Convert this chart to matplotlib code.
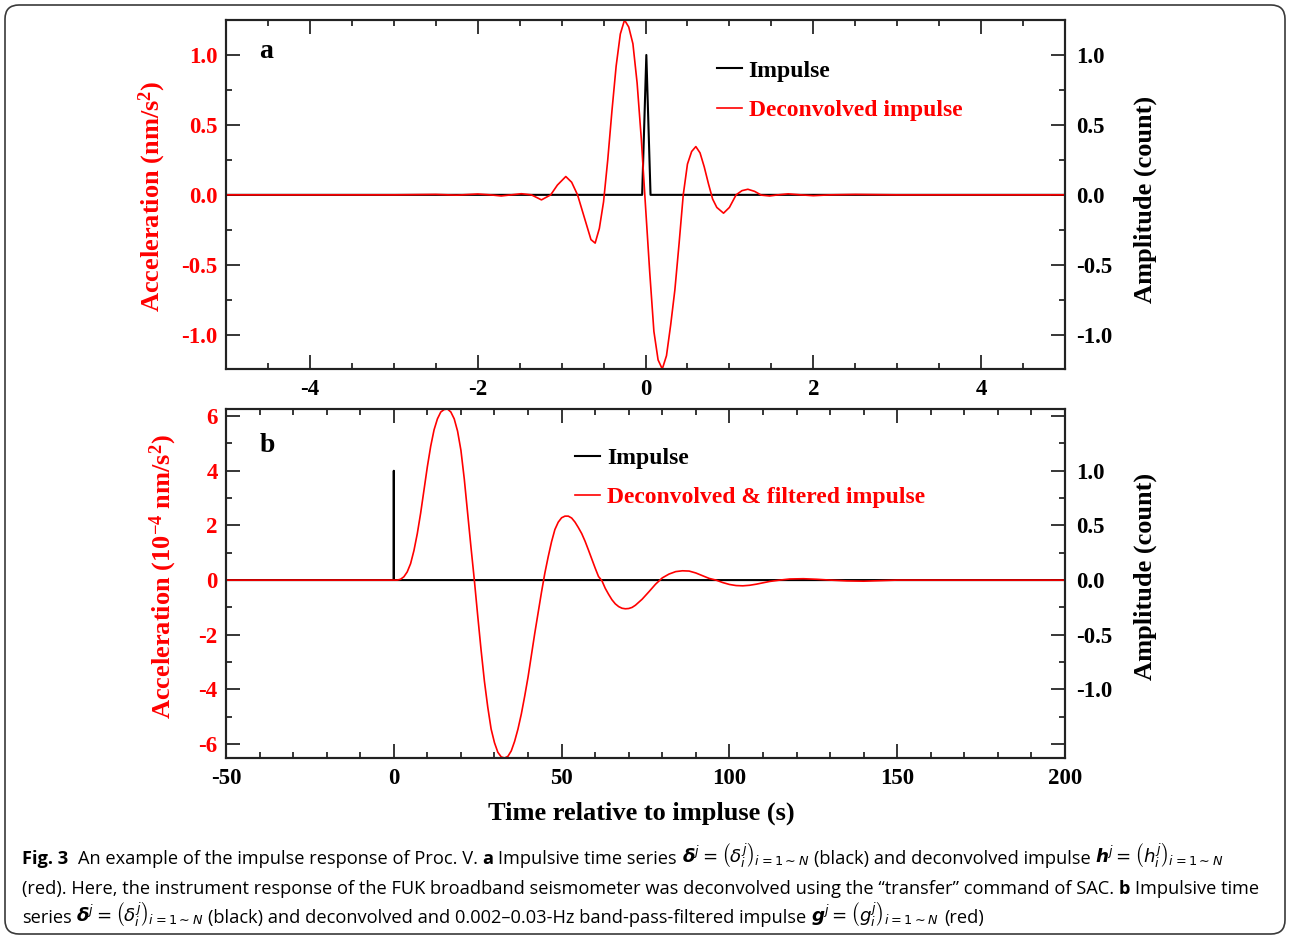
import numpy as np
import matplotlib
matplotlib.use("Agg")
import matplotlib.pyplot as plt
from matplotlib.ticker import MultipleLocator, FormatStrFormatter, FuncFormatter
from matplotlib.lines import Line2D
from matplotlib.patches import FancyBboxPatch
from matplotlib.transforms import IdentityTransform

# -----------------------------
# data
# -----------------------------
# panel a: impulse and deconvolved impulse, time in s
t_a_imp = [-5.0, -0.04, 0.01, 0.06, 5.0]
v_a_imp = [0.0, 0.0, 1.0, 0.0, 0.0]

t_a_red = [-5.0, -3.0, -2.5, -2.25, -2.0, -1.85, -1.72, -1.6, -1.48, -1.36,
           -1.24, -1.13, -1.05, -0.95, -0.88, -0.81, -0.75, -0.7, -0.65, -0.6,
           -0.55, -0.5, -0.45, -0.4, -0.35, -0.3, -0.25, -0.2, -0.15, -0.1,
           -0.05, 0.0, 0.05, 0.1, 0.15, 0.2, 0.25, 0.3, 0.35, 0.4,
           0.45, 0.5, 0.55, 0.6, 0.65, 0.7, 0.75, 0.8, 0.85, 0.93,
           1.0, 1.08, 1.15, 1.22, 1.3, 1.38, 1.48, 1.58, 1.7, 1.85,
           2.0, 2.2, 2.5, 3.0, 5.0]
v_a_red = [0.0, 0.0, 0.003, -0.002, 0.006, 0.0, -0.008, 0.0, 0.008, 0.0,
           -0.036, 0.0, 0.07, 0.131, 0.09, 0.0, -0.12, -0.22, -0.32, -0.345,
           -0.24, -0.05, 0.25, 0.6, 0.92, 1.15, 1.25, 1.2, 1.08, 0.8,
           0.4, -0.08, -0.55, -0.976, -1.18, -1.245, -1.15, -0.93, -0.68, -0.35,
           0.0, 0.22, 0.31, 0.345, 0.3, 0.2, 0.08, -0.03, -0.09, -0.131,
           -0.09, 0.0, 0.03, 0.04, 0.025, -0.002, -0.008, 0.0, 0.007, 0.0,
           -0.006, 0.0, 0.003, 0.0, 0.0]

# panel b: impulse and deconvolved & filtered impulse (1e-4 nm/s^2)
t_b_imp = [-50.0, -0.05, 0.0, 0.05, 200.0]
v_b_imp = [0.0, 0.0, 1.0, 0.0, 0.0]

t_b_red = [-50, 0, 1, 2, 3, 4, 5, 6, 7, 8, 9, 10, 11, 12, 13, 14, 15, 16, 17, 18,
           19, 20, 21, 22, 23, 24, 25, 26, 27, 28, 29, 30, 31, 32, 33, 34, 35, 36,
           37, 38, 39, 40, 41, 42, 43, 44, 45, 46, 47, 48, 49, 50, 51, 52, 53, 54,
           55, 56, 57, 58, 59, 60, 61, 62, 63, 64, 65, 66, 67, 68, 69, 70, 71, 72,
           74, 76, 78, 80, 82, 84, 86, 88, 90, 92, 94, 96, 98, 100, 102, 104, 106,
           108, 110, 112, 115, 118, 122, 126, 130, 135, 140, 145, 150, 200]
v_b_red = [0.0, 0.0, 0.0, 0.03, 0.12, 0.3, 0.6, 1.08, 1.7, 2.45, 3.3, 4.15, 4.9, 5.5,
           5.9, 6.15, 6.24, 6.26, 6.15, 5.9, 5.45, 4.75, 3.7, 2.45, 1.2, 0.0, -1.3,
           -2.55, -3.7, -4.65, -5.45, -5.95, -6.3, -6.47, -6.51, -6.45, -6.25, -5.9,
           -5.45, -4.9, -4.25, -3.55, -2.75, -1.95, -1.2, -0.45, 0.25, 0.85, 1.4,
           1.85, 2.12, 2.28, 2.34, 2.34, 2.27, 2.12, 1.92, 1.7, 1.42, 1.1, 0.77,
           0.44, 0.13, -0.02, -0.3, -0.52, -0.72, -0.87, -0.97, -1.03, -1.05, -1.04,
           -1.0, -0.92, -0.7, -0.43, -0.15, 0.08, 0.22, 0.31, 0.34, 0.33, 0.26, 0.16,
           0.06, 0.0, -0.09, -0.16, -0.2, -0.21, -0.19, -0.15, -0.1, -0.05, 0.0,
           0.04, 0.05, 0.03, 0.0, -0.03, -0.04, -0.02, 0.0, 0.0]

# -----------------------------
# style
# -----------------------------
plt.rcParams['font.family'] = ['Liberation Serif', 'DejaVu Serif']
plt.rcParams['font.weight'] = 'bold'
plt.rcParams['axes.labelweight'] = 'bold'
plt.rcParams['axes.unicode_minus'] = False
# math in the caption: plain sans, bold italic for the vector symbols
plt.rcParams['mathtext.fontset'] = 'custom'
plt.rcParams['mathtext.rm'] = 'DejaVu Sans:weight=normal'
plt.rcParams['mathtext.it'] = 'DejaVu Sans:style=italic:weight=normal'
plt.rcParams['mathtext.bf'] = 'DejaVu Sans:style=italic:weight=bold'

W, H = 1290, 944
fig = plt.figure(figsize=(W / 100, H / 100), dpi=100)

ax_a = fig.add_axes([226 / W, 1 - 369 / H, 839 / W, 349 / H])
ax_b = fig.add_axes([226 / W, 1 - 758 / H, 839 / W, 349 / H])
axr_a = ax_a.twinx()
axr_b = ax_b.twinx()

TICK_FS = 16.5
LABEL_FS = 19


def style(ax, axr):
    ax.set_zorder(axr.get_zorder() + 1)
    ax.patch.set_visible(False)
    for a in (ax, axr):
        for s in a.spines.values():
            s.set_linewidth(1.5)
            s.set_color('#222222')
    ax.tick_params(axis='both', which='both', direction='in', width=1.1,
                   top=True, bottom=True, labelsize=TICK_FS)
    ax.tick_params(which='major', length=10)
    ax.tick_params(which='minor', length=4.5)
    ax.tick_params(axis='y', labelcolor='red', pad=6)
    ax.tick_params(axis='x', pad=7)
    axr.tick_params(axis='y', which='both', direction='in', width=1.1,
                    labelsize=TICK_FS, pad=8)
    axr.tick_params(axis='y', which='major', length=10)
    axr.tick_params(axis='y', which='minor', length=4.5)


# -------- panel a --------
style(ax_a, axr_a)
axr_a.plot(t_a_imp, v_a_imp, color='black', lw=1.5)
ax_a.plot(t_a_red, v_a_red, color='red', lw=1.2)
ax_a.set_xlim(-5, 5)
ax_a.set_ylim(min(v_a_red), max(v_a_red))
axr_a.set_ylim(min(v_a_red), max(v_a_red))
ax_a.xaxis.set_major_locator(MultipleLocator(2))
ax_a.xaxis.set_minor_locator(MultipleLocator(0.5))
ax_a.xaxis.set_major_formatter(FormatStrFormatter('%d'))
for a in (ax_a, axr_a):
    a.yaxis.set_major_locator(MultipleLocator(0.5))
    a.yaxis.set_minor_locator(MultipleLocator(0.25))
    a.yaxis.set_major_formatter(FormatStrFormatter('%.1f'))

ax_a.set_ylabel('Acceleration (nm/s$\\mathregular{^2}$)', color='red', fontsize=LABEL_FS)
ax_a.yaxis.set_label_coords(-0.069, 0.496)
axr_a.set_ylabel('Amplitude (count)', fontsize=LABEL_FS)
axr_a.yaxis.set_label_coords(1.082, 0.485)
ax_a.text(0.04, 0.89, 'a', transform=ax_a.transAxes, fontsize=20, va='baseline')

h_blk = Line2D([], [], color='black', lw=1.5)
h_red = Line2D([], [], color='red', lw=1.2)
leg = ax_a.legend([h_blk, h_red], ['Impulse', 'Deconvolved impulse'], loc='upper left',
                  bbox_to_anchor=(0.585, 0.885), frameon=False, fontsize=17,
                  handlelength=1.05, handletextpad=0.3, labelspacing=0.75,
                  borderpad=0, borderaxespad=0)
leg.get_texts()[1].set_color('red')

# -------- panel b --------
style(ax_b, axr_b)
axr_b.plot(t_b_imp, v_b_imp, color='black', lw=1.5)
ax_b.plot(t_b_red, v_b_red, color='red', lw=1.2)
ax_b.set_xlim(-50, 200)
ylo, yhi = min(v_b_red), max(v_b_red)
ax_b.set_ylim(ylo, yhi)
axr_b.set_ylim(ylo / 4, yhi / 4)
ax_b.xaxis.set_major_locator(MultipleLocator(50))
ax_b.xaxis.set_minor_locator(MultipleLocator(10))
ax_b.xaxis.set_major_formatter(FormatStrFormatter('%d'))
ax_b.yaxis.set_major_locator(MultipleLocator(2))
ax_b.yaxis.set_minor_locator(MultipleLocator(1))
ax_b.yaxis.set_major_formatter(FormatStrFormatter('%d'))
axr_b.yaxis.set_major_locator(MultipleLocator(0.5))
axr_b.yaxis.set_minor_locator(MultipleLocator(0.25))
axr_b.yaxis.set_major_formatter(FuncFormatter(lambda v, p: '%.1f' % v if abs(v) < 1.01 else ''))

ax_b.set_ylabel('Acceleration (10$\\mathregular{^{-4}}$ nm/s$\\mathregular{^2}$)',
                color='red', fontsize=LABEL_FS)
ax_b.yaxis.set_label_coords(-0.056, 0.521)
axr_b.set_ylabel('Amplitude (count)', fontsize=LABEL_FS)
axr_b.yaxis.set_label_coords(1.082, 0.52)
ax_b.set_xlabel('Time relative to impluse (s)', fontsize=LABEL_FS)
ax_b.xaxis.set_label_coords(0.495, -0.125)
ax_b.text(0.04, 0.877, 'b', transform=ax_b.transAxes, fontsize=20, va='baseline')

leg = ax_b.legend([h_blk, h_red], ['Impulse', 'Deconvolved & filtered impulse'],
                  loc='upper left', bbox_to_anchor=(0.416, 0.89), frameon=False,
                  fontsize=17, handlelength=1.05, handletextpad=0.3, labelspacing=0.75,
                  borderpad=0, borderaxespad=0)
leg.get_texts()[1].set_color('red')

# -----------------------------
# caption box
# -----------------------------
box = FancyBboxPatch((5, 944 - 934), 1280, 929, boxstyle='round,pad=0,rounding_size=14',
                     transform=IdentityTransform(), fill=False, ec='#3a3a3a', lw=1.2)
fig.add_artist(box)

CAP_FONT = 'Open Sans'
renderer = fig.canvas.get_renderer()

line2_plain = ('(red). Here, the instrument response of the FUK broadband seismometer was '
               'deconvolved using the \u201ctransfer\u201d command of SAC. b Impulsive time')
probe = fig.text(0, 0, line2_plain, fontsize=12, family=CAP_FONT, weight='normal')
cap_fs = 12 * 1233 / probe.get_window_extent(renderer).width
probe.remove()

probe = fig.text(0, 0, 'x x', fontsize=cap_fs, family=CAP_FONT, weight='normal')
w3 = probe.get_window_extent(renderer).width
probe.set_text('xx')
sp = w3 - probe.get_window_extent(renderer).width
probe.remove()

m_delta = r'$\mathbf{\delta}^{j}=\left(\delta_{i}^{j}\right)_{i=1\sim N}$'
m_h = r'$\mathbf{h}^{j}=\left(h_{i}^{j}\right)_{i=1\sim N}$'
m_g = r'$\mathbf{g}^{j}=\left(g_{i}^{j}\right)_{i=1\sim N}$'

lines = [
    (864, [('Fig. 3', 'b'), ('  An example of the impulse response of Proc. V. ', 'r'), ('a', 'b'),
           (' Impulsive time series ', 'r'), (m_delta, 'm'),
           (' (black) and deconvolved impulse ', 'r'), (m_h, 'm')]),
    (894, [('(red). Here, the instrument response of the FUK broadband seismometer was '
            'deconvolved using the \u201ctransfer\u201d command of SAC. ', 'r'), ('b', 'b'),
           (' Impulsive time', 'r')]),
    (923, [('series ', 'r'), (m_delta, 'm'),
           (' (black) and deconvolved and 0.002\u20130.03-Hz band-pass-filtered impulse ', 'r'),
           (m_g, 'm'), (' (red)', 'r')]),
]

for y_base, segs in lines:
    x = 22
    for txt, kind in segs:
        lead = len(txt) - len(txt.lstrip(' '))
        trail = len(txt) - len(txt.rstrip(' '))
        x += lead * sp
        t = fig.text(x / W, 1 - y_base / H, txt.strip(' '), fontsize=cap_fs,
                     family=CAP_FONT, weight='bold' if kind == 'b' else 'normal',
                     ha='left', va='baseline', math_fontfamily='custom')
        x = t.get_window_extent(renderer).x1 + trail * sp

fig.savefig('out.png', dpi=100)
